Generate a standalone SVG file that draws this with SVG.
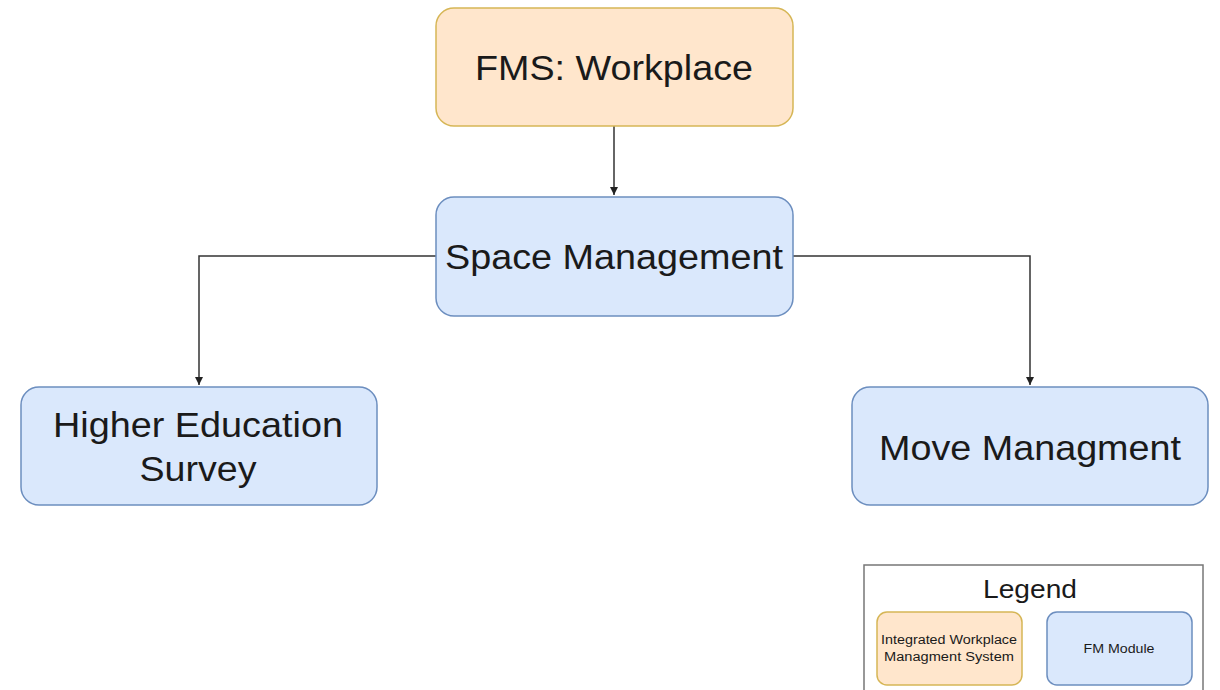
<svg xmlns="http://www.w3.org/2000/svg" width="1220" height="690" viewBox="0 0 1220 690">
<defs>
<style>
.o{fill:#ffe6cc;stroke:#d6b656;stroke-width:1.5}
.b{fill:#dae8fc;stroke:#6c8ebf;stroke-width:1.5}
text{font-family:"Liberation Sans",Arial,sans-serif;fill:#1a1a1a;text-anchor:middle}
.big{font-size:35px}
.sm{font-size:12.5px}
.c{fill:none;stroke:#333;stroke-width:1.5}
</style>
<marker id="arr" markerWidth="10" markerHeight="10" refX="9" refY="5" orient="auto" markerUnits="userSpaceOnUse">
<path d="M1,1 L9,5 L1,9 Z" fill="#222"/>
</marker>
</defs>
<rect width="1220" height="690" fill="#fff"/>
<g id="connectors">
<path class="c" d="M614,126 V195" marker-end="url(#arr)"/>
<path class="c" d="M436,256 H199 V385" marker-end="url(#arr)"/>
<path class="c" d="M793,256 H1030 V385" marker-end="url(#arr)"/>
</g>
<g id="fms">
<rect class="o" x="436" y="8" width="357" height="118" rx="18"/>
<text class="big" x="614" y="80" textLength="278" lengthAdjust="spacingAndGlyphs">FMS: Workplace</text>
</g>
<g id="space">
<rect class="b" x="436" y="197" width="357" height="119" rx="18"/>
<text class="big" x="614" y="269" textLength="338" lengthAdjust="spacingAndGlyphs">Space Management</text>
</g>
<g id="higher">
<rect class="b" x="21" y="387" width="356" height="118" rx="18"/>
<text class="big" x="198" y="437" textLength="290" lengthAdjust="spacingAndGlyphs">Higher Education</text>
<text class="big" x="198" y="481" textLength="117" lengthAdjust="spacingAndGlyphs">Survey</text>
</g>
<g id="move">
<rect class="b" x="852" y="387" width="356" height="118" rx="18"/>
<text class="big" x="1030" y="460" textLength="302" lengthAdjust="spacingAndGlyphs">Move Managment</text>
</g>
<g id="legend">
<rect x="864" y="565" width="339" height="140" fill="#fff" stroke="#777" stroke-width="1.5"/>
<text x="1030" y="598" style="font-size:26px" textLength="94" lengthAdjust="spacingAndGlyphs">Legend</text>
<rect class="o" x="877" y="612" width="145" height="73" rx="10"/>
<text class="sm" x="949" y="644" textLength="136" lengthAdjust="spacingAndGlyphs">Integrated Workplace</text>
<text class="sm" x="949" y="661" textLength="130" lengthAdjust="spacingAndGlyphs">Managment System</text>
<rect class="b" x="1047" y="612" width="145" height="73" rx="10"/>
<text class="sm" x="1119" y="653" textLength="71" lengthAdjust="spacingAndGlyphs">FM Module</text>
</g>
</svg>
